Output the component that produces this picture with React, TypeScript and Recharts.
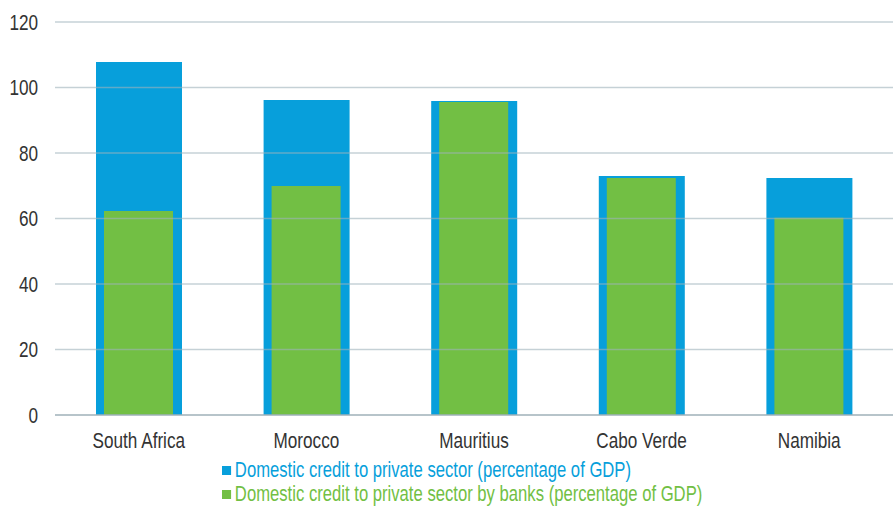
import { BarChart, Bar, XAxis, YAxis, ReferenceLine } from 'recharts'

const countries = ['South Africa', 'Morocco', 'Mauritius', 'Cabo Verde', 'Namibia']
const privateCredit = [107.8, 96.2, 95.9, 73.0, 72.4]
const bankCredit = [62.3, 69.9, 95.6, 72.4, 60.2]
const yTicks = [0, 20, 40, 60, 80, 100, 120]
const seriesNames = [
    'Domestic credit to private sector (percentage of GDP)',
    'Domestic credit to private sector by banks (percentage of GDP)',
]

const BLUE = '#079fdb'
const GREEN = '#72bf44'
const FONT = '"Liberation Sans", Arial, sans-serif'
const SQUEEZE = 0.78

const data = countries.map((country, i) => ({
    country,
    total: privateCredit[i],
    banks: bankCredit[i],
}))

// narrow text, the original uses a condensed face
function NarrowTick(props: any) {
    const { x, y, payload, textAnchor } = props
    return (
        <text
            transform={`translate(${x},${y}) scale(${SQUEEZE},1)`}
            textAnchor={textAnchor}
            dy="0.355em"
            fill="#333"
            fontSize={22}
            fontFamily={FONT}
        >
            {payload.value}
        </text>
    )
}

export default function App() {
    return (
        <div style={{ position: 'absolute', left: 0, top: 0, width: 893, height: 507, fontFamily: FONT }}>
            <BarChart
                width={893}
                height={460}
                data={data}
                margin={{ top: 22, right: 0, left: 0, bottom: 0 }}
            >
                <XAxis
                    xAxisId="back"
                    dataKey="country"
                    height={45}
                    tickLine={false}
                    tickMargin={19}
                    axisLine={{ stroke: '#9fb0b8', strokeWidth: 1.5 }}
                    tick={<NarrowTick />}
                />
                <XAxis xAxisId="front" dataKey="country" hide />
                <YAxis
                    domain={[0, 120]}
                    ticks={yTicks}
                    width={55}
                    tickLine={false}
                    axisLine={false}
                    tickMargin={11}
                    tick={<NarrowTick />}
                />
                <Bar xAxisId="back" dataKey="total" fill={BLUE} barSize={86} isAnimationActive={false} />
                <Bar xAxisId="front" dataKey="banks" fill={GREEN} barSize={69} isAnimationActive={false} />
                {yTicks.slice(1).map((t) => (
                    <ReferenceLine
                        key={t}
                        xAxisId="back"
                        y={t}
                        stroke="#9fb2ba"
                        strokeOpacity={0.6}
                        strokeWidth={1.5}
                    />
                ))}
            </BarChart>
            <div
                style={{
                    position: 'absolute',
                    left: 222,
                    top: 458,
                    fontSize: 22,
                    lineHeight: '24px',
                    whiteSpace: 'nowrap',
                    transform: 'scaleX(0.757)',
                    transformOrigin: 'left top',
                }}
            >
                {seriesNames.map((name, i) => (
                    <div key={name} style={{ display: 'flex', alignItems: 'center', color: i === 0 ? BLUE : GREEN }}>
                        <span
                            style={{
                                display: 'inline-block',
                                width: 12,
                                height: 9,
                                marginRight: 5,
                                background: i === 0 ? BLUE : GREEN,
                            }}
                        />
                        {name}
                    </div>
                ))}
            </div>
        </div>
    )
}
